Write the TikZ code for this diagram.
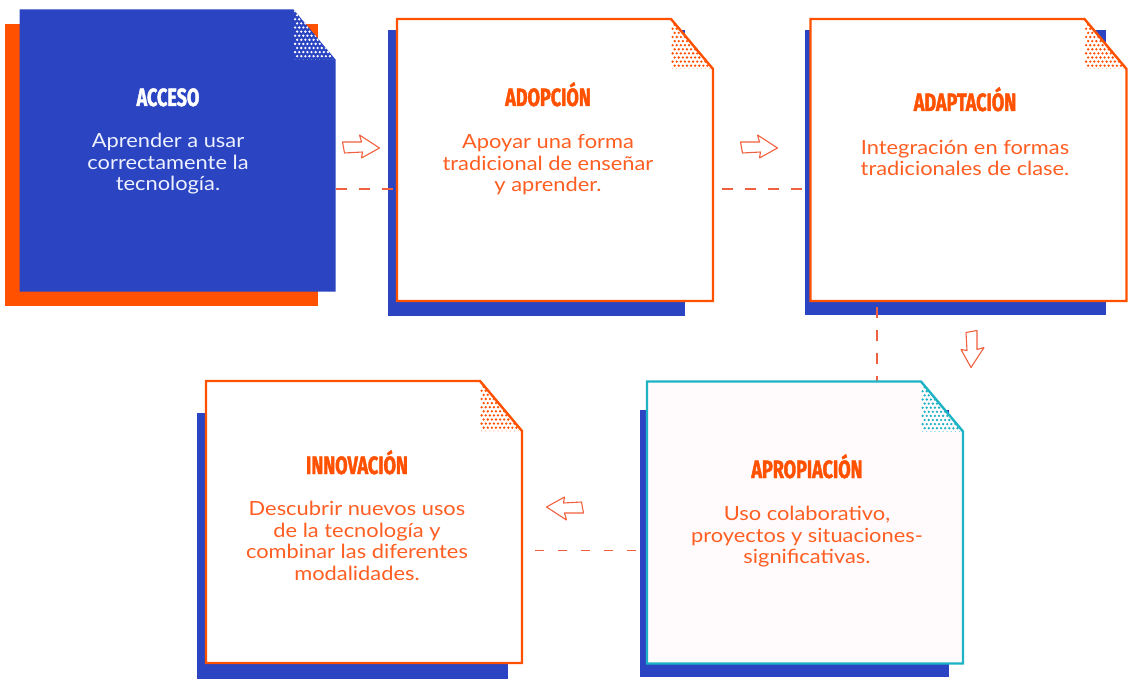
\documentclass[tikz,border=0pt]{standalone}
\usepackage{fontspec}
\setmainfont{Lato}[FakeStretch=1.12]
\newfontfamily\titlefont{Fira Sans}[FakeStretch=0.72, FakeBold=1.6]
\usetikzlibrary{calc}
\definecolor{cblue}{HTML}{2A44C2}
\definecolor{corange}{HTML}{FF5100}
\definecolor{cteal}{HTML}{1DB3C4}
\definecolor{cdash}{HTML}{F0603E}
\definecolor{ctext}{HTML}{FF5E22}
\definecolor{cwtext}{HTML}{EEF1FF}
\definecolor{cpale}{HTML}{FFFBFC}
\newcommand{\papersheet}[4]{%
  \path (#1.north west) coordinate (#1-a)
        (#1.north east) ++(-42,0) coordinate (#1-b)
        (#1.north east) ++(0,50) coordinate (#1-c)
        (#1.south east) coordinate (#1-d)
        (#1.south west) coordinate (#1-e);
  \coordinate (#1-f) at (#1-b |- #1-c);
  \fill[#2] (#1-a) -- (#1-b) -- (#1-c) -- (#1-d) -- (#1-e) -- cycle;
  \begin{scope}
    \clip (#1-b) -- (#1-f) -- (#1-c) -- cycle;
    \foreach \j in {0,...,12} {
      \foreach \i in {0,...,11} {
        \fill[#4] ($(#1-b)+({\i*4.1+mod(\j,2)*2.05+1.6},{\j*4.1+1.6})$) circle (1.3pt);
      }
    }
  \end{scope}
  \draw[#3] (#1-a) -- (#1-b) -- (#1-c) -- (#1-d) -- (#1-e) -- cycle;%
}
\tikzset{
  frame/.style={inner sep=0pt, outer sep=0pt, minimum width=316pt, minimum height=282pt},
  sheetline/.style={line width=2.4pt, line join=miter},
  title/.style={font=\titlefont\bfseries\fontsize{25}{26}\selectfont, inner sep=0pt, anchor=base},
  body/.style={font=\fontsize{19.5}{21.5}\selectfont, align=center, inner sep=0pt},
  link/.style={cdash, line width=1.6pt, dash pattern=on 11pt off 12pt},
  arrowline/.style={draw=cdash, line width=1.1pt, line join=round},
  harrow/.pic={\draw[arrowline] (-18.5,-5) -- (0.5,-5) -- (-1.5,-12) -- (18.5,1) -- (0.5,11) -- (1.5,5) -- (-16.5,6) -- cycle;}
}
\begin{document}
\begin{tikzpicture}[x=1pt,y=-1pt]
\useasboundingbox (0,0) rectangle (1132,679);
% shadows
\fill[corange] (5,24) rectangle (318,306);
\fill[cblue] (388,30) rectangle (685,316);
\fill[cblue] (805,30) rectangle (1106,315);
\fill[cblue] (197,413) rectangle (508,679);
\fill[cblue] (640,410) rectangle (949,677);
% frames
\node[frame] (c1) at (177.5,150.5) {};
\node[frame] (c2) at (555,160) {};
\node[frame] (c3) at (968.5,160) {};
\node[frame] (c4) at (364,522) {};
\node[frame] (c5) at (805,522.5) {};
% connectors
\draw[link] ([yshift=-38.5pt]c1.east) -- ([yshift=-38.5pt]c1.east -| c2.west);
\draw[link, dash phase=-9pt] ([yshift=-29pt]c2.east) -- ([yshift=-29pt]c2.east -| c3.west);
\draw[link, dash phase=-6pt] ([xshift=-91.5pt]c3.south) -- ([xshift=-91.5pt]c3.south |- c5.north);
\draw[link, dash phase=-11pt, dash pattern=on 9pt off 14pt] ([yshift=-28pt]c5.west) -- ([yshift=-28pt]c5.west -| c4.east);
% sheets
\papersheet{c1}{cblue}{draw=none}{white}
\papersheet{c2}{white}{corange, sheetline}{corange}
\papersheet{c3}{white}{corange, sheetline}{corange}
\papersheet{c4}{white}{corange, sheetline}{corange}
\papersheet{c5}{cpale}{cteal, sheetline}{cteal}
% arrows
\pic (a1) at (361,147) {harrow};
\pic (a2) at (759,147) {harrow};
\pic[rotate=-90] (a3) at (972,349) {harrow};
\pic[rotate=180] (a4) at (565,508) {harrow};
% texts
\node[title, text=white] (t1) at (168,106) {ACCESO};
\node[body, text=cwtext] (b1) at (168,164) {Aprender a usar\\correctamente la\\tecnología.};
\node[title, text=corange] (t2) at (548,106) {ADOPCIÓN};
\node[body, text=ctext] (b2) at (548,165) {Apoyar una forma\\tradicional de enseñar\\y aprender.};
\node[title, text=corange] (t3) at (965,111) {ADAPTACIÓN};
\node[body, text=ctext] (b3) at (965,158) {Integración en formas\\tradicionales de clase.};
\node[title, text=corange] (t4) at (357,474) {INNOVACIÓN};
\node[body, text=ctext] (b4) at (357,541) {Descubrir nuevos usos\\de la tecnología y\\combinar las diferentes\\modalidades.};
\node[title, text=corange] (t5) at (807,478) {APROPIACIÓN};
\node[body, text=ctext] (b5) at (807,537) {Uso colaborativo,\\proyectos y situaciones-\\significativas.};
\end{tikzpicture}
\end{document}
